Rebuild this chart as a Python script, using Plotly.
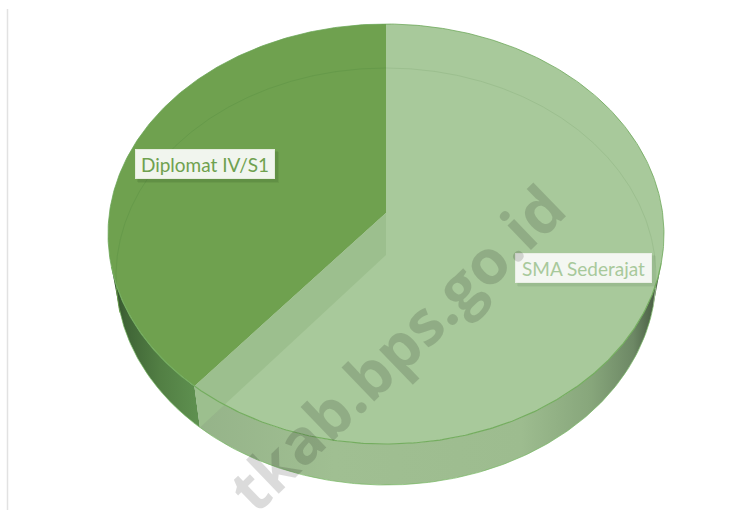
import numpy as np
import plotly.graph_objects as go

categories = ["Diplomat IV/S1", "SMA Sederajat"]
shares = [37.9, 62.1]
watermark = "tkab.bps.go.id"

CX = 386
TOP_CY, TOP_RX, TOP_RY = 234, 278, 210
BOT_CY, BOT_RX, BOT_RY = 276.5, 270, 208.5
APEX_TOP, APEX_BOT = 213, 255
DARK, LIGHT = "#6fa14f", "#a8c99b"
WALL_LEFT, WALL_RIGHT = 99, 262


def arc(cy, rx, ry, start, end, n=240):
    t = np.radians(np.linspace(start, end, n))
    return CX - rx * np.sin(t), cy - ry * np.cos(t)


def seq(*parts):
    return np.concatenate([np.atleast_1d(p) for p in parts])


cut = shares[0] / sum(shares) * 360  # counter-clockwise from 12 o'clock
fig = go.Figure()


def wall(start, end, stops):
    x1, y1 = arc(TOP_CY, TOP_RX, TOP_RY, start, end)
    x2, y2 = arc(BOT_CY, BOT_RX, BOT_RY, end, start)
    fig.add_trace(go.Scatter(
        x=seq(x1, x2), y=seq(y1, y2), mode="lines", fill="toself",
        line=dict(width=0), hoverinfo="skip", showlegend=False,
        fillgradient=dict(type="horizontal", colorscale=stops)))


wall(WALL_LEFT, cut, [[0, "#2f4d2b"], [0.15, "#3f6436"], [0.55, "#527f44"], [1, "#5f9150"]])
wall(cut, WALL_RIGHT, [[0, "#95b389"], [0.3, "#a0bf92"], [0.7, "#9dbc8f"],
                       [0.85, "#87a67b"], [0.94, "#6d8865"], [1, "#3f523a"]])

# lower rim line of the thick disc
bx, by = arc(BOT_CY, BOT_RX, BOT_RY, WALL_LEFT, WALL_RIGHT)
fig.add_trace(go.Scatter(x=bx, y=by, mode="lines", line=dict(color="rgba(120,185,100,0.7)", width=1),
                         hoverinfo="skip", showlegend=False))

# top faces of the two slices
x, y = arc(TOP_CY, TOP_RX, TOP_RY, cut, 360)
fig.add_trace(go.Scatter(x=seq(CX, x), y=seq(APEX_TOP, y), mode="lines", fill="toself",
                         fillcolor=LIGHT, line=dict(width=0), name=categories[1],
                         hoverinfo="skip", showlegend=False))
x, y = arc(TOP_CY, TOP_RX, TOP_RY, 0, cut)
fig.add_trace(go.Scatter(x=seq(CX, x), y=seq(APEX_TOP, y), mode="lines", fill="toself",
                         fillcolor=DARK, line=dict(width=0), name=categories[0],
                         hoverinfo="skip", showlegend=False))

# cut face seen through the translucent slice
px, py = arc(TOP_CY, TOP_RX, TOP_RY, cut, cut, 1)
qx, qy = arc(BOT_CY, BOT_RX, BOT_RY, cut, cut, 1)
fig.add_trace(go.Scatter(x=seq(CX, px, qx, CX), y=seq(APEX_TOP, py, qy, APEX_BOT),
                         mode="lines", fill="toself", fillcolor="#9cbf8e",
                         line=dict(width=0), hoverinfo="skip", showlegend=False))

# inner (far disc) line and lid outline
for a, b, col in [(0, 100, "#669a4a"), (-98, 0, "#9cbf8f")]:
    x, y = arc(BOT_CY, BOT_RX, BOT_RY, a, b)
    fig.add_trace(go.Scatter(x=x, y=y, mode="lines", line=dict(color=col, width=1),
                             hoverinfo="skip", showlegend=False))
x, y = arc(TOP_CY, TOP_RX, TOP_RY, 99, 262, 300)
fig.add_trace(go.Scatter(x=x, y=y, mode="lines", line=dict(color="#74ad5f", width=1.2),
                         hoverinfo="skip", showlegend=False))
x, y = arc(TOP_CY, TOP_RX, TOP_RY, -98, 99, 300)
fig.add_trace(go.Scatter(x=x, y=y, mode="lines", line=dict(color="rgba(105,165,85,0.75)", width=1),
                         hoverinfo="skip", showlegend=False))

fig.update_layout(
    width=755, height=510, margin=dict(l=0, r=0, t=0, b=0),
    paper_bgcolor="white", plot_bgcolor="white", showlegend=False,
    xaxis=dict(range=[0, 755], visible=False, fixedrange=True),
    yaxis=dict(range=[510, 0], visible=False, fixedrange=True),
    shapes=[
        dict(type="line", x0=7.5, x1=7.5, y0=9, y1=510, line=dict(color="#e2e2e2", width=1.5), layer="below"),
        dict(type="rect", x0=137, x1=278, y0=151, y1=182, fillcolor="rgba(40,70,30,0.10)", line_width=0, layer="above"),
        dict(type="rect", x0=138, x1=279, y0=152, y1=183, fillcolor="rgba(40,70,30,0.08)", line_width=0, layer="above"),
        dict(type="rect", x0=517, x1=655, y0=255, y1=286, fillcolor="rgba(60,90,50,0.07)", line_width=0, layer="above"),
        dict(type="rect", x0=518, x1=656, y0=256, y1=287, fillcolor="rgba(60,90,50,0.05)", line_width=0, layer="above"),
    ],
    annotations=[
        dict(x=205, y=164, text=categories[0], showarrow=False, width=138, height=28, align="center",
             bgcolor="#f1f5ee", bordercolor="#e4ecdd", borderwidth=1, borderpad=0,
             font=dict(family="Lato", size=19, color=DARK)),
        dict(x=583.5, y=268, text=categories[1], showarrow=False, width=135, height=28, align="center",
             bgcolor="#f4f7f2", bordercolor="#e9efe5", borderwidth=1, borderpad=0,
             font=dict(family="Lato", size=19, color=LIGHT)),
        dict(x=396, y=347, text="<b>" + watermark + "</b>", textangle=-44, showarrow=False,
             font=dict(family="Open Sans", size=62, color="rgba(0,0,0,0.14)")),
    ],
)
fig.write_html("out.html", config=dict(displayModeBar=False),
               post_script="document.body.style.margin='0';")
